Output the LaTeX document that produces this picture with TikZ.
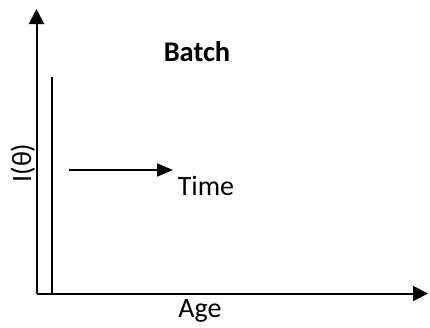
\documentclass[tikz,border=0pt]{standalone}
\usepackage{fontspec}
\setmainfont{Carlito}
\usetikzlibrary{arrows.meta}
\begin{document}
\begin{tikzpicture}[x=1pt,y=-1pt,
  axis/.style={line width=2pt,-{Triangle[width=15pt,length=15pt]}},
  lbl/.style={font=\fontsize{28}{30}\selectfont,inner sep=0pt,anchor=base}]
			\useasboundingbox (0,0) rectangle (430,327);
			\coordinate (origin) at (36.5,293.5);
			\coordinate (ytip) at (36.5,9);
			\coordinate (xtip) at (428,293.5);
			\coordinate (batchtop) at (51.5,77);
			\coordinate (batchbot) at (51.5,294.5);
			\coordinate (tstart) at (69,170);
			\coordinate (tend) at (173,170);
			\draw[axis] (origin) -- (ytip);
			\draw[axis] (origin) -- (xtip);
			\draw[line width=2pt] (batchtop) -- (batchbot);
			\draw[line width=1.6pt,-{Triangle[width=13pt,length=16pt]}] (tstart) -- (tend);
			\node[lbl] (time) at (206,195) {Time};
			\node[lbl,font=\fontsize{28.5}{30}\selectfont\bfseries] (batch) at (197,61) {Batch};
			\node[lbl] (age) at (200,317) {Age};
			\node[lbl,rotate=90] (itheta) at (31,163) {I(θ)};
		\end{tikzpicture}
\end{document}
